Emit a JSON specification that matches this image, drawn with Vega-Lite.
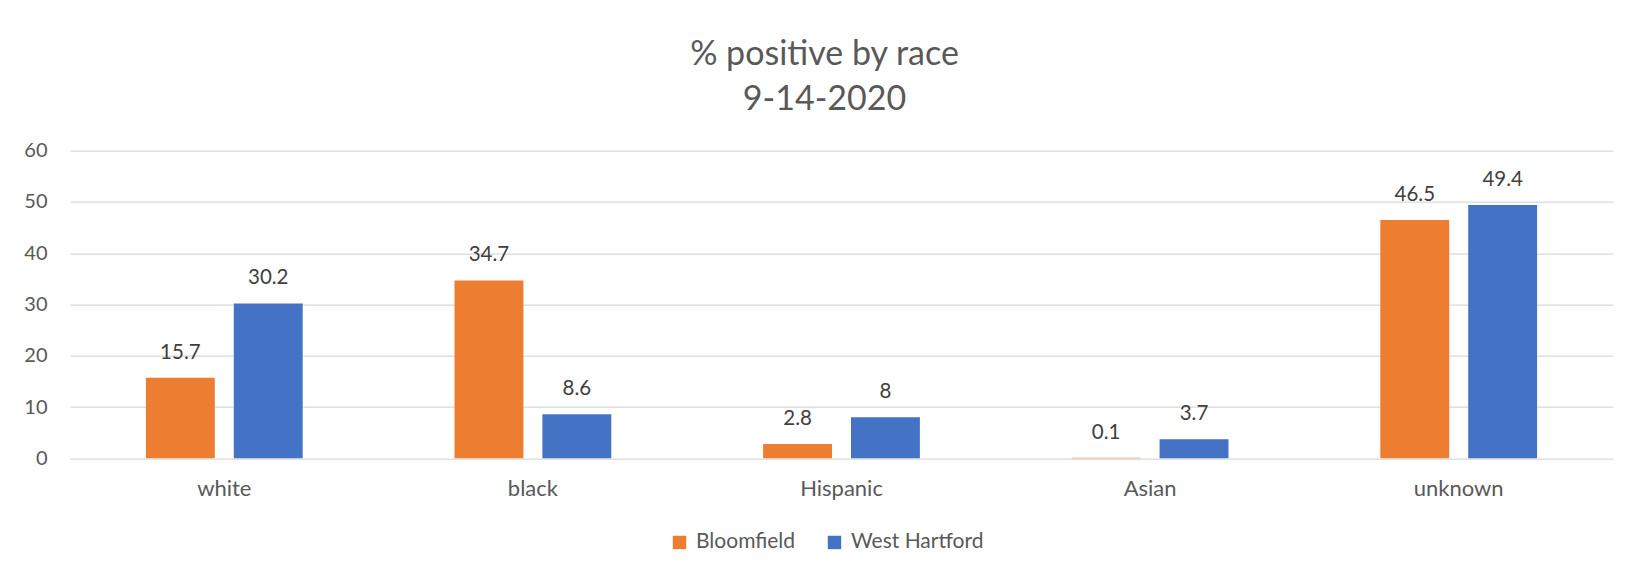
{
  "$schema": "https://vega.github.io/schema/vega-lite/v6.json",
  "width": 1543,
  "height": 307.6,
  "autosize": {"type": "none"},
  "padding": {"left": 70, "top": 150.7, "right": 12, "bottom": 120.7},
  "background": "white",
  "config": {"font": "Lato", "view": {"stroke": null}},
  "title": {
    "text": ["% positive by race", "9-14-2020"],
    "fontSize": 34,
    "font": "Lato",
    "fontWeight": "normal",
    "color": "#595959",
    "lineHeight": 45,
    "anchor": "middle",
    "dx": -17,
    "offset": 24
  },
  "data": {
    "values": [
      {"race": "white", "town": "Bloomfield", "pct": 15.7},
      {"race": "white", "town": "West Hartford", "pct": 30.2},
      {"race": "black", "town": "Bloomfield", "pct": 34.7},
      {"race": "black", "town": "West Hartford", "pct": 8.6},
      {"race": "Hispanic", "town": "Bloomfield", "pct": 2.8},
      {"race": "Hispanic", "town": "West Hartford", "pct": 8},
      {"race": "Asian", "town": "Bloomfield", "pct": 0.1},
      {"race": "Asian", "town": "West Hartford", "pct": 3.7},
      {"race": "unknown", "town": "Bloomfield", "pct": 46.5},
      {"race": "unknown", "town": "West Hartford", "pct": 49.4}
    ]
  },
  "encoding": {
    "x": {
      "field": "race",
      "type": "nominal",
      "sort": ["white", "black", "Hispanic", "Asian", "unknown"],
      "scale": {"paddingInner": 0.492, "paddingOuter": 0.246},
      "axis": {
        "title": null,
        "labelAngle": 0,
        "domain": false,
        "ticks": false,
        "grid": false,
        "labelFont": "Lato",
        "labelFontSize": 22,
        "labelColor": "#595959",
        "labelPadding": 20
      }
    },
    "xOffset": {
      "field": "town",
      "type": "nominal",
      "sort": ["Bloomfield", "West Hartford"],
      "scale": {"paddingInner": 0.216, "paddingOuter": 0}
    },
    "y": {
      "field": "pct",
      "type": "quantitative",
      "scale": {"domain": [0, 60], "nice": false},
      "axis": {
        "title": null,
        "values": [0, 10, 20, 30, 40, 50, 60],
        "domain": false,
        "ticks": false,
        "labelPadding": 23,
        "labelFont": "Lato",
        "labelFontSize": 20,
        "labelColor": "#595959",
        "gridColor": "#D9D9D9",
        "gridWidth": 1.3
      }
    }
  },
  "layer": [
    {
      "mark": {"type": "bar"},
      "encoding": {
        "color": {
          "field": "town",
          "type": "nominal",
          "scale": {"domain": ["Bloomfield", "West Hartford"], "range": ["#ED7D31", "#4472C4"]},
          "legend": {
            "title": null,
            "orient": "none",
            "direction": "horizontal",
            "legendX": 599,
            "legendY": 381,
            "padding": 0,
            "symbolType": "square",
            "symbolSize": 180,
            "symbolStrokeWidth": 0,
            "labelFont": "Lato",
            "labelFontSize": 21,
            "labelColor": "#595959",
            "labelOffset": 6,
            "columnPadding": 28
          }
        }
      }
    },
    {
      "mark": {"type": "text", "baseline": "alphabetic", "dy": -19, "font": "Lato", "fontSize": 20.5, "color": "#404040"},
      "encoding": {
        "text": {"field": "pct", "type": "quantitative"}
      }
    }
  ]
}
